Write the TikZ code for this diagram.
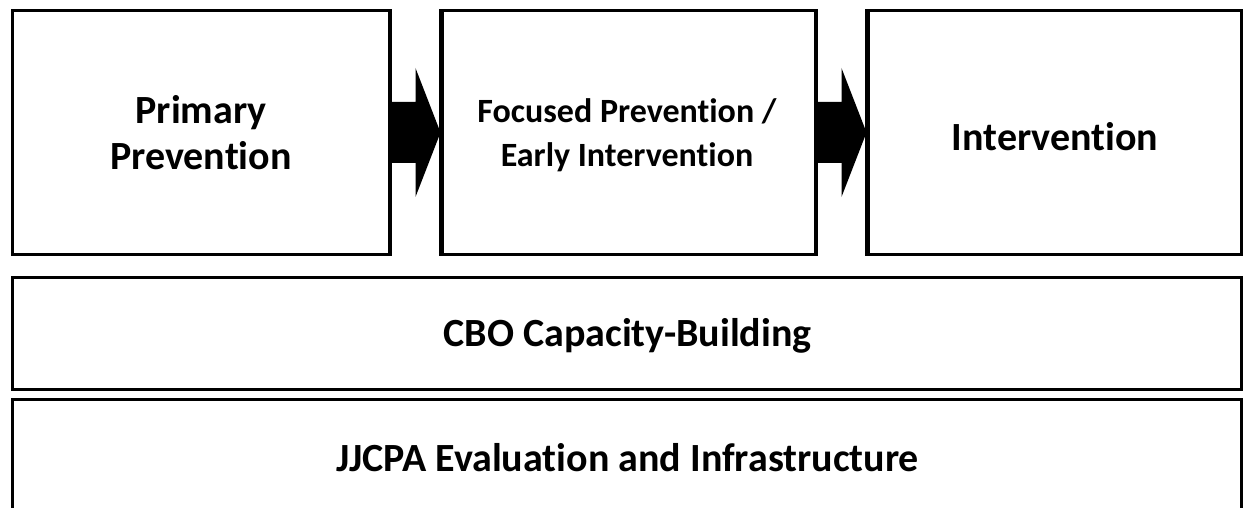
\documentclass[tikz,border=0pt]{standalone}
\usepackage{fontspec}
\setmainfont{Carlito}[Ligatures=NoCommon]
\usetikzlibrary{calc}
\tikzset{
  box/.style={draw=black, line width=3pt, fill=white, inner sep=0pt},
  lbl/.style={font=\bfseries\fontsize{40}{46}\selectfont, anchor=base, inner sep=0pt},
  lblsm/.style={font=\bfseries\fontsize{34}{44}\selectfont, anchor=base, inner sep=0pt},
  blockarrow/.style={fill=black}
}
\begin{document}
\begin{tikzpicture}[x=1pt,y=-1pt]
\clip (0,0) rectangle (1243,508);
\fill[white] (0,0) rectangle (1243,508);
\node[box, minimum width=377pt, minimum height=243pt] (b1) at (200.5,132.5) {};
\node[box, minimum width=373pt, minimum height=243pt] (b2) at (628.5,132.5) {};
\node[box, minimum width=373pt, minimum height=243pt] (b3) at (1054.5,132.5) {};
\node[box, minimum width=1229pt, minimum height=112.5pt] (cbo) at (626.5,333.25) {};
\node[box, minimum width=1229pt, minimum height=114pt] (jj) at (626.5,456) {};
% block arrows between the boxes
\fill[blockarrow] (b1.east) ++(0,-30.5) -- ++(25,0) -- ++(0,-34) -- (b2.west)
  -- ($(b1.east)+(25,64.5)$) -- ++(0,-34) -- ++(-25,0) -- cycle;
\fill[blockarrow] (b2.east) ++(0,-30.5) -- ++(25,0) -- ++(0,-34) -- (b3.west)
  -- ($(b2.east)+(25,64.5)$) -- ++(0,-34) -- ++(-25,0) -- cycle;
\draw[line width=3pt] (b1.north east) -- (b1.south east) (b2.north west) -- (b2.south west)
  (b2.north east) -- (b2.south east) (b3.north west) -- (b3.south west);
\node[lbl] (t1a) at (201,124) {Primary};
\node[lbl] (t1b) at (201,170) {Prevention};
\node[lblsm] (t2a) at (627,123) {Focused Prevention /};
\node[lblsm] (t2b) at (627,167) {Early Intervention};
\node[lbl] (t3) at (1055,151) {Intervention};
\node[lbl] (t4) at (627.5,346) {CBO Capacity-Building};
\node[lbl] (t5) at (627.5,471) {JJCPA Evaluation and Infrastructure};
\end{tikzpicture}
\end{document}
